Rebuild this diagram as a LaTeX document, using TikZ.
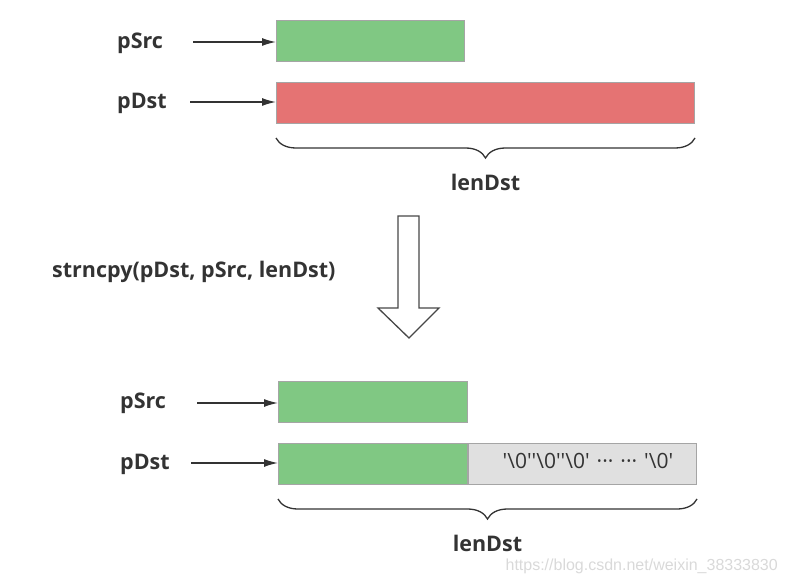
\documentclass[tikz,border=0pt]{standalone}
\usepackage{fontspec}
\setmainfont{Open Sans}
\newfontfamily\markfont{Liberation Sans}
\usetikzlibrary{arrows.meta,positioning,decorations.pathreplacing}

\definecolor{srcgreen}{HTML}{80C883}
\definecolor{dstred}{HTML}{E57373}
\definecolor{zerogray}{HTML}{E0E0E0}
\definecolor{edgegray}{HTML}{A5A5A5}
\definecolor{ink}{HTML}{333333}

\begin{document}
\begin{tikzpicture}[x=1pt, y=-1pt,
        lbl/.style={font=\fontsize{21.5}{24}\selectfont\bfseries, text=ink, anchor=west, inner sep=0pt},
        blk/.style={draw=edgegray, line width=1pt, anchor=north west, minimum height=41pt, inner sep=0pt},
        ptr/.style={draw=ink, line width=1.4pt, -{Latex[length=14pt,width=8pt]}},
        brc/.style={draw=ink, line width=1.3pt, decorate,
                decoration={brace, mirror, amplitude=20pt}}]
        \useasboundingbox (0,0) rectangle (786,585);

        % before
        \node[lbl] (srcA) at (117,43) {pSrc};
        \node[lbl] (dstA) at (117,103) {pDst};
        \node[blk, fill=srcgreen, minimum width=188pt] (sboxA) at (276,20) {};
        \node[blk, fill=dstred, minimum width=418pt] (dboxA) at (276,82) {};
        \coordinate (sptrA) at (193,42);
        \coordinate (dptrA) at (190,102);
        \draw[ptr] (sptrA) -- (sptrA -| sboxA.west);
        \draw[ptr] (dptrA) -- (dptrA -| dboxA.west);
        \draw[brc] ([yshift=-14pt]dboxA.south west) -- ([yshift=-14pt]dboxA.south east)
                node[midway, below=36pt, lbl, anchor=north] (lenA) {lenDst};

        % strncpy
        \node[lbl] (call) at (52,272) {strncpy(pDst, pSrc, lenDst)};
        \draw[draw=ink!90, line width=1.3pt, line join=miter]
                (398,216) -- (419,216) -- (419,308) -- (439,308) -- (409,338)
                -- (378,308) -- (398,308) -- cycle;

        % after
        \node[lbl] (srcB) at (120,403) {pSrc};
        \node[lbl] (dstB) at (120,464) {pDst};
        \node[blk, fill=srcgreen, minimum width=189pt] (sboxB) at (278,381) {};
        \node[blk, fill=srcgreen, minimum width=189pt] (cpyB) at (278,443) {};
        \node[blk, fill=zerogray, minimum width=228pt, anchor=north west] (zeroB) at (cpyB.north east) {};
        \node[font=\fontsize{21}{24}\selectfont, text=ink, inner sep=0pt] (zeros) at (588,461)
                {\textquotesingle\textbackslash 0\textquotesingle\textquotesingle\textbackslash 0\textquotesingle\textquotesingle\textbackslash 0\textquotesingle\hspace{7pt}···\hspace{7pt}···\hspace{7pt}\textquotesingle\textbackslash 0\textquotesingle};
        \coordinate (sptrB) at (197,403);
        \coordinate (dptrB) at (191,463);
        \draw[ptr] (sptrB) -- (sptrB -| sboxB.west);
        \draw[ptr] (dptrB) -- (dptrB -| cpyB.west);
        \draw[brc] ([yshift=-14pt]cpyB.south west) -- ([yshift=-14pt]zeroB.south east)
                node[midway, below=36pt, lbl, anchor=north] (lenB) {lenDst};

        \node[font=\markfont\fontsize{16}{18}\selectfont, text=black!15, anchor=east, inner sep=0pt] (mark) at (778,566) {https://blog.csdn.net/weixin\_38333830};
\end{tikzpicture}
\end{document}
